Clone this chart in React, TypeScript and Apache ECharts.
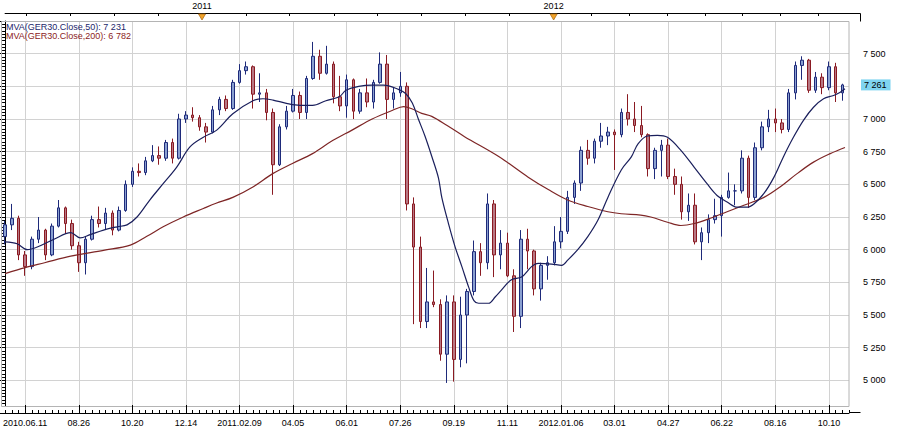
import React, { useEffect, useRef } from "react";
import * as echarts from "echarts";

// bottom axis tick labels (every 8th weekly bar starting at bar 3)
const tickLabels = ["2010.06.11", "08.26", "10.20", "12.14", "2011.02.09", "04.05", "06.01", "07.26", "09.19", "11.11", "2012.01.06", "03.01", "04.27", "06.22", "08.16", "10.10"];
const tickStart = 3;
const tickStep = 8;
const categoryCount = 127;

// top axis
const yearLabels = ["2011", "2012"];
const yearMarks = [29.4, 81.9];
const topTicks = [3.2, 9.8, 16.3, 22.9, 29.4, 36.0, 42.5, 49.1, 55.6, 62.2, 68.7, 75.3, 81.9, 87.5, 93.2, 98.8, 104.5, 110.1, 115.8, 121.4];

// weekly OHLC of GER30
const opens = [
  6100, 6190, 6240, 5960, 5870, 6080, 6150, 5960, 6180, 6320,
  6200, 6030, 5900, 6080, 6230, 6200, 6280, 6150, 6300, 6500,
  6600, 6590, 6680, 6720, 6700, 6820, 6700, 7000, 7030, 7010,
  6940, 6900, 7070, 7150, 7080, 7280, 7370, 7400, 7190, 7200,
  7050, 6650, 6940, 7060, 7180, 7050, 7310, 7480, 7350, 7420,
  7170, 7100, 7300, 7060, 7200, 7130, 7280, 7420, 7150, 7200,
  7250, 6350, 6020, 5450, 5600, 5580, 5200, 5600, 5160, 5500,
  5680, 5985, 5900, 6350, 5960, 6050, 5800, 5490, 6080, 5990,
  5700, 5880, 5900, 6060, 6140, 6400, 6510, 6760, 6700, 6830,
  6870, 6900, 6880, 7050, 7000, 6950, 6880, 6620, 6760, 6800,
  6560, 6500, 6290, 6340, 6060, 6130, 6230, 6260, 6400, 6450,
  6450, 6700, 6400, 6780, 6940, 7000, 6970, 6920, 7200, 7410,
  7450, 7220, 7320, 7240, 7400, 7200,
];
const closes = [
  6190, 6240, 5960, 5870, 6080, 6150, 5960, 6180, 6320, 6200,
  6030, 5900, 6080, 6230, 6200, 6280, 6150, 6300, 6500, 6600,
  6590, 6680, 6720, 6700, 6820, 6700, 7000, 7030, 7010, 6940,
  6900, 7070, 7150, 7080, 7280, 7370, 7400, 7190, 7200, 7050,
  6650, 6940, 7060, 7180, 7050, 7310, 7480, 7350, 7420, 7170,
  7100, 7300, 7060, 7200, 7130, 7280, 7420, 7150, 7200, 7250,
  6350, 6020, 5450, 5600, 5580, 5200, 5600, 5160, 5500, 5680,
  5985, 5900, 6350, 5960, 6050, 5800, 5490, 6080, 5990, 5700,
  5880, 5900, 6060, 6140, 6400, 6510, 6760, 6700, 6830, 6870,
  6900, 6880, 7050, 7000, 6950, 6880, 6620, 6760, 6800, 6560,
  6500, 6290, 6340, 6060, 6130, 6230, 6260, 6400, 6450, 6450,
  6700, 6400, 6780, 6940, 7000, 6970, 6920, 7200, 7410, 7450,
  7220, 7320, 7240, 7400, 7200, 7261,
];
const lows = [
  6040, 6150, 5920, 5800, 5850, 6050, 5920, 5950, 6170, 6120,
  6000, 5830, 5810, 6070, 6170, 6150, 6110, 6140, 6290, 6480,
  6560, 6570, 6670, 6650, 6680, 6660, 6690, 6970, 6980, 6910,
  6820, 6890, 7030, 7060, 7070, 7270, 7340, 7080, 7130, 6990,
  6420, 6640, 6920, 7050, 7000, 7000, 7300, 7300, 7340, 7120,
  7060, 7010, 7000, 7040, 7090, 7080, 7270, 7000, 7080, 7170,
  6300, 5430, 5400, 5400, 5560, 5150, 4980, 4990, 5100, 5130,
  5650, 5800, 5850, 5790, 5850, 5790, 5370, 5400, 5850, 5650,
  5610, 5770, 5880, 6010, 6120, 6350, 6450, 6650, 6660, 6780,
  6800, 6610, 6860, 6950, 6900, 6860, 6560, 6540, 6560, 6540,
  6420, 6230, 6220, 6040, 5920, 6050, 6200, 6100, 6390, 6340,
  6430, 6320, 6380, 6760, 6900, 6900, 6890, 6900, 7150, 7300,
  7200, 7200, 7190, 7220, 7130, 7140,
];
const highs = [
  6220, 6350, 6260, 5990, 6100, 6250, 6160, 6200, 6380, 6330,
  6230, 6060, 6100, 6260, 6330, 6320, 6300, 6330, 6530, 6630,
  6660, 6710, 6800, 6790, 6840, 6850, 7040, 7060, 7090, 7030,
  6970, 7100, 7170, 7180, 7300, 7420, 7440, 7410, 7350, 7230,
  7080, 6960, 7100, 7230, 7210, 7330, 7590, 7530, 7560, 7440,
  7330, 7340, 7310, 7230, 7310, 7300, 7510, 7490, 7240, 7360,
  7280, 6400, 6100, 5860, 5840, 5620, 5650, 5650, 5640, 5700,
  6070, 6050, 6430, 6380, 6150, 6130, 5850, 6150, 6160, 6000,
  5900, 5950, 6180, 6250, 6450, 6530, 6790, 6840, 6850, 6970,
  6940, 6920, 7080, 7190, 7130, 7100, 6890, 6780, 6840, 6850,
  6620, 6560, 6430, 6430, 6170, 6270, 6390, 6420, 6590, 6500,
  6760, 6720, 6820, 6980, 7070, 7080, 7000, 7230, 7440, 7480,
  7460, 7360, 7350, 7440, 7430, 7270,
];

// moving averages: [bar position, value]
const ma50 = [
  [0, 6060], [1.8, 6045], [3.3, 6000], [4.8, 6020], [7.3, 6080], [9.8, 6130], [11.2, 6090], [12.7, 6115],
  [14.7, 6150], [16.7, 6175], [18.2, 6190], [19.7, 6250], [21.6, 6380], [23.6, 6505], [25.6, 6630],
  [27.6, 6786], [29.6, 6860], [31.6, 6915], [34, 7040], [37, 7140], [38.5, 7155], [40, 7145], [42, 7120],
  [44, 7105], [45.9, 7105], [47.9, 7140], [49.9, 7170], [50.9, 7220], [52.8, 7250], [54.8, 7260],
  [56.5, 7260], [58.8, 7225], [59.8, 7195], [60.8, 7123], [61.7, 7000], [62.7, 6868], [63.7, 6715],
  [64.7, 6550], [65.2, 6400], [66.2, 6200], [67.2, 6020], [68.2, 5870], [69.2, 5715], [70, 5610],
  [70.7, 5590], [72.2, 5590], [73.2, 5640], [74.1, 5690], [75.6, 5770], [77.1, 5790], [78.6, 5870],
  [79.6, 5895], [81.6, 5890], [83.1, 5880], [84, 5920], [85.5, 6000], [87, 6100], [88.5, 6225],
  [90, 6400], [92, 6610], [93.5, 6710], [94.5, 6810], [95.9, 6870], [97.4, 6875], [98.9, 6860],
  [100.9, 6760], [102.9, 6630], [104.8, 6505], [106.3, 6415], [107.8, 6365], [109.3, 6325],
  [110.8, 6325], [111.8, 6350], [113.3, 6430], [114.8, 6555], [116.2, 6710], [117.7, 6860],
  [119.2, 6990], [120.7, 7090], [122.2, 7155], [123.7, 7180], [124.7, 7205], [125.4, 7231],
];
const ma200 = [
  [0, 5817], [3, 5863], [5.9, 5900], [9.8, 5950], [14.7, 5995], [18.7, 6035], [21.1, 6100], [23.6, 6175],
  [26.6, 6250], [29.6, 6315], [31.5, 6355], [34, 6400], [37, 6480], [39.9, 6580], [42.9, 6660],
  [45.9, 6735], [48.9, 6835], [51.8, 6915], [54.8, 7000], [57.8, 7065], [59.5, 7095], [60.8, 7077],
  [62.2, 7043], [63.7, 7020], [66, 6950], [68.6, 6865], [73.7, 6713], [78.1, 6555], [81.1, 6460],
  [84, 6380], [87, 6330], [90, 6290], [92, 6275], [94.9, 6265], [96.4, 6250], [98.9, 6210],
  [100.9, 6185], [102.9, 6200], [105.3, 6240], [107.8, 6290], [110.3, 6340], [113.3, 6400],
  [115.7, 6480], [118.2, 6580], [120.7, 6670], [123.2, 6735], [125.4, 6782],
];

const lastPrice = 7261;
const ma50Last = 7231;
const ma200Last = 6782;

const FONT = "'Liberation Sans', Arial, sans-serif";
const fmt = (v: number) => String(Math.round(v)).replace(/\B(?=(\d{3})+(?!\d))/g, " ");
const isMajor = (i: number) => i >= tickStart && (i - tickStart) % tickStep === 0;

export default function App() {
  const ref = useRef<HTMLDivElement>(null);
  useEffect(() => {
    if (!ref.current) return;
    const chart = echarts.init(ref.current, null, { renderer: "svg" });
    const cats = Array.from({ length: categoryCount }, (_, i) => String(i));
    const candle = opens.map((o, i) => [o, closes[i], lows[i], highs[i]]);
    const option: any = {
      animation: false,
      backgroundColor: "#ffffff",
      grid: { left: 1, right: 51, top: 21, bottom: 17, containLabel: false },
      xAxis: [
        {
          type: "category", data: cats, boundaryGap: false, position: "bottom", z: 0,
          axisLine: { show: false }, axisTick: { show: false },
          axisLabel: {
            interval: (i: number) => isMajor(i),
            formatter: (_v: string, i: number) => (isMajor(i) ? tickLabels[(i - tickStart) / tickStep] : ""),
            color: "#000", fontSize: 9, fontFamily: FONT, margin: 5,
          },
          splitLine: { show: true, interval: (i: number) => isMajor(i), lineStyle: { color: "#d2d2d2", width: 1 } },
        },
        {
          type: "value", min: 0, max: categoryCount - 1, position: "top", offset: 8,
          axisLine: { show: true, lineStyle: { color: "#000", width: 1 } },
          axisTick: { show: true, inside: true, length: 3, customValues: topTicks, lineStyle: { color: "#000" } },
          axisLabel: {
            show: true, customValues: yearMarks, margin: 3, color: "#000", fontSize: 9, fontFamily: FONT,
            formatter: (v: number) => {
              const k = yearMarks.findIndex((m) => Math.abs(m - v) < 0.01);
              return k >= 0 ? yearLabels[k] : "";
            },
          },
          splitLine: { show: false },
        },
        {
          type: "category", data: cats, boundaryGap: false, position: "bottom", z: 10,
          axisLine: { show: true, lineStyle: { color: "#000", width: 1 } },
          axisTick: { show: true, interval: 0, inside: true, length: 3, lineStyle: { color: "#000" } },
          axisLabel: { show: false }, splitLine: { show: false },
        },
        {
          type: "category", data: cats, boundaryGap: false, position: "bottom", z: 10,
          axisLine: { show: false },
          axisTick: { show: true, interval: (i: number) => isMajor(i), inside: true, length: 8, lineStyle: { color: "#000" } },
          axisLabel: { show: false }, splitLine: { show: false },
        },
      ],
      yAxis: [
        {
          type: "value", position: "right", offset: 11, min: 4750, max: 7750, interval: 250,
          axisLine: { show: true, lineStyle: { color: "#000", width: 1 } },
          axisTick: { show: true, inside: true, length: 7, lineStyle: { color: "#000" } },
          minorTick: { show: true, splitNumber: 10, length: 3, lineStyle: { color: "#000" } },
          axisLabel: {
            formatter: (v: number) => (v === 4750 || v === 7750 ? "" : fmt(v)),
            color: "#000", fontSize: 9, fontFamily: FONT, margin: 3,
          },
          splitLine: { show: true, lineStyle: { color: "#d2d2d2", width: 1 } },
          minorSplitLine: { show: false },
        },
      ],
      series: [
        {
          type: "candlestick", xAxisIndex: 0, yAxisIndex: 0, data: candle, barWidth: 3, z: 2,
          itemStyle: { color: "#8aa0d0", color0: "#b87884", borderColor: "#1e2a7a", borderColor0: "#8a1a22", borderWidth: 1 },
        },
        {
          type: "line", xAxisIndex: 1, yAxisIndex: 0, data: ma200, showSymbol: false, smooth: 0.35, z: 3,
          lineStyle: { color: "#7e2626", width: 1.2 },
        },
        {
          type: "line", xAxisIndex: 1, yAxisIndex: 0, data: ma50, showSymbol: false, smooth: 0.35, z: 4,
          lineStyle: { color: "#1a1f5c", width: 1.2 },
        },
      ],
    };
    chart.setOption(option);

    const py = chart.convertToPixel({ yAxisIndex: 0 }, lastPrice) as number;
    const graphics: any[] = [
      { type: "rect", z: 5, silent: true, shape: { x: 0, y: 406.5, width: 850, height: 6 }, style: { fill: "#ffffff" } },
      { type: "rect", z: 6, silent: true, shape: { x: 1.5, y: 21.5, width: 847.5, height: 385 }, style: { fill: "none", stroke: "#b4b4b4", lineWidth: 1 } },
      { type: "line", z: 11, silent: true, shape: { x1: 849, y1: 412.5, x2: 860.5, y2: 412.5 }, style: { stroke: "#000", lineWidth: 1 } },
      { type: "line", z: 11, silent: true, shape: { x1: 849, y1: 13.5, x2: 860.5, y2: 13.5 }, style: { stroke: "#000", lineWidth: 1 } },
      { type: "line", z: 11, silent: true, shape: { x1: 860.5, y1: 13.5, x2: 860.5, y2: 21.5 }, style: { stroke: "#000", lineWidth: 1 } },
      {
        type: "text", z: 20, silent: true, x: 6, y: 26.5,
        style: { text: `MVA(GER30.Close,50): ${fmt(ma50Last)}`, fill: "#1c1f6b", font: `9px ${FONT}`, verticalAlign: "middle" },
      },
      {
        type: "text", z: 20, silent: true, x: 6, y: 35.5,
        style: { text: `MVA(GER30.Close,200): ${fmt(ma200Last)}`, fill: "#8b2323", font: `9px ${FONT}`, verticalAlign: "middle" },
      },
      {
        type: "text", z: 30, silent: true, x: 861, y: py,
        style: { text: fmt(lastPrice), fill: "#000", font: `9px ${FONT}`, verticalAlign: "middle", backgroundColor: "#7fd4f0", padding: [1, 4, 1, 3] },
      },
    ];
    yearMarks.forEach((m) => {
      const px = chart.convertToPixel({ xAxisIndex: 1 }, m) as number;
      graphics.push({
        type: "polygon", z: 20, silent: true,
        shape: { points: [[px - 3.5, 14], [px + 3.5, 14], [px, 20]] },
        style: { fill: "#f2a328", stroke: "#b0701a", lineWidth: 0.8 },
      });
    });
    chart.setOption({ graphic: graphics });

    return () => chart.dispose();
  }, []);
  return (
    <div
      ref={ref}
      style={{ position: "fixed", left: 0, top: 0, width: 900, height: 430, background: "#ffffff" }}
    />
  );
}
